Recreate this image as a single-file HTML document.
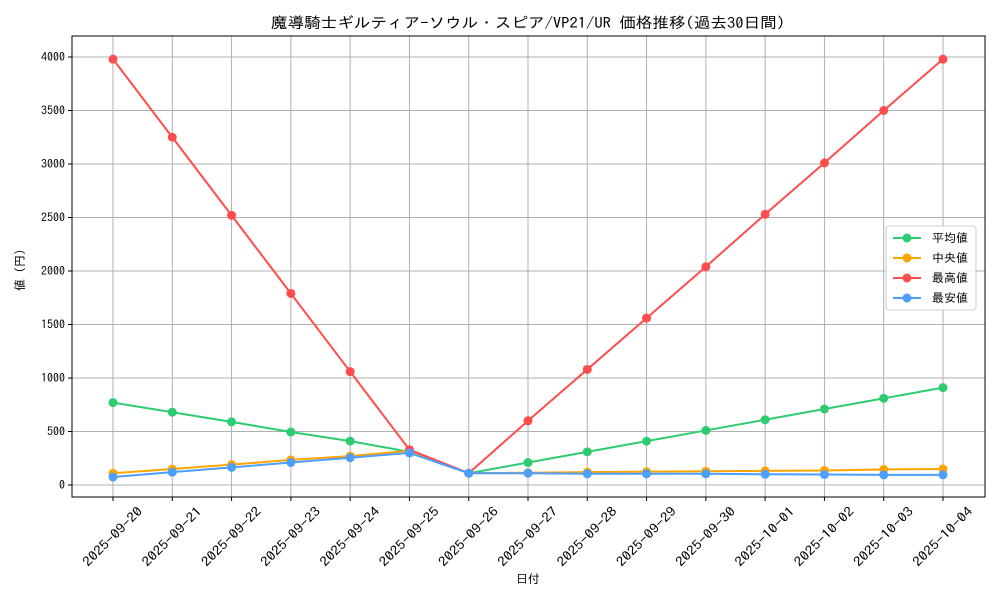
<!DOCTYPE html>
<html><head><meta charset="utf-8"><style>
body{margin:0;background:#fff;}
svg text{font-family:"IPAGothic","Noto Sans CJK JP",monospace;fill:#000;}
</style></head><body>
<svg id="chart" width="1000" height="600"></svg>
<script>
const categories=["2025-09-20","2025-09-21","2025-09-22","2025-09-23","2025-09-24","2025-09-25","2025-09-26","2025-09-27","2025-09-28","2025-09-29","2025-09-30","2025-10-01","2025-10-02","2025-10-03","2025-10-04"];
const avgValues=[770,680,590,495,410,310,110,210,310,410,510,610,710,810,910];
const medianValues=[110,150,190,235,270,320,110,115,120,125,128,132,136,145,150];
const maxValues=[3980,3250,2520,1790,1060,330,110,600,1080,1560,2040,2530,3010,3500,3980];
const minValues=[75,120,165,210,255,300,110,110,105,105,105,100,98,95,95];
const yTicks=[0,500,1000,1500,2000,2500,3000,3500,4000];
const seriesNames=["平均値","中央値","最高値","最安値"];

const NS="http://www.w3.org/2000/svg";
const svg=document.getElementById('chart');
const L=72,R=985,T=36,B=497;
const x0=113,x1=943;
function xs(i){return x0+(x1-x0)*i/(categories.length-1);}
function ys(v){return 485-v*0.107;}
function mk(tag,attrs,parent){const e=document.createElementNS(NS,tag);for(const k in attrs)e.setAttribute(k,attrs[k]);(parent||svg).appendChild(e);return e;}

const title=mk('text',{x:528,y:28,'text-anchor':'middle','font-size':15,textLength:514,lengthAdjust:'spacingAndGlyphs'});
title.textContent="魔導騎士ギルティア-ソウル・スピア/VP21/UR 価格推移(過去30日間)";



const grid=mk('g',{});


categories.forEach((c,i)=>{
  const X=xs(i);
  mk('line',{x1:X,x2:X,y1:T,y2:B,stroke:'#b0b0b0','stroke-width':1},grid);
  mk('line',{x1:X,x2:X,y1:B,y2:B+4,stroke:'#000'});
  const cy=537;
  const t=mk('text',{x:X,y:cy+4,'text-anchor':'middle','font-size':13,textLength:78,lengthAdjust:'spacingAndGlyphs',transform:`rotate(-45 ${X} ${cy})`});
  t.textContent=c;
  
  
});
yTicks.forEach(v=>{
  const Y=ys(v);
  mk('line',{x1:L,x2:R,y1:Y,y2:Y,stroke:'#b0b0b0','stroke-width':1},grid);
  mk('line',{x1:L-4,x2:L,y1:Y,y2:Y,stroke:'#000'});
  const t=mk('text',{x:L-7,y:Y+4,'text-anchor':'end','font-size':12});
  t.textContent=v;
  
  
});
const frame=mk('rect',{x:L,y:T,width:R-L,height:B-T,fill:'none',stroke:'#000','stroke-width':1});



const xl=mk('text',{x:528,y:583,'text-anchor':'middle','font-size':12});
xl.textContent="日付";


const yl=mk('text',{x:24,y:270,'text-anchor':'middle','font-size':12,transform:'rotate(-90 24 270)'});
yl.textContent="値 (円)";



const series=[[avgValues,'#2ecc71','avg'],[medianValues,'#ffa500','median'],[maxValues,'#ff4c4c','max'],[minValues,'#4c9fff','min']];
series.forEach(([vals,col,nm])=>{
  const g=mk('g',{});
  
  
  mk('polyline',{points:vals.map((v,i)=>xs(i)+','+ys(v)).join(' '),fill:'none',stroke:col,'stroke-width':2},g);
  vals.forEach((v,i)=>{
    const c=mk('circle',{cx:xs(i),cy:ys(v),r:4.5,fill:col},g);
    
    
  });
});

const lg=mk('g',{});


mk('rect',{x:886,y:226,width:90,height:84,rx:3,fill:'#fff','fill-opacity':0.85,stroke:'#ccc'},lg);
series.forEach(([vals,col,nm],k)=>{
  const Y=238+k*20;
  const e=mk('g',{},lg);
  
  
  mk('line',{x1:893,x2:921,y1:Y,y2:Y,stroke:col,'stroke-width':2},e);
  mk('circle',{cx:907,cy:Y,r:4.5,fill:col},e);
  const t=mk('text',{x:932,y:Y+4,'font-size':12},e);
  t.textContent=seriesNames[k];
});
</script>
</body></html>
